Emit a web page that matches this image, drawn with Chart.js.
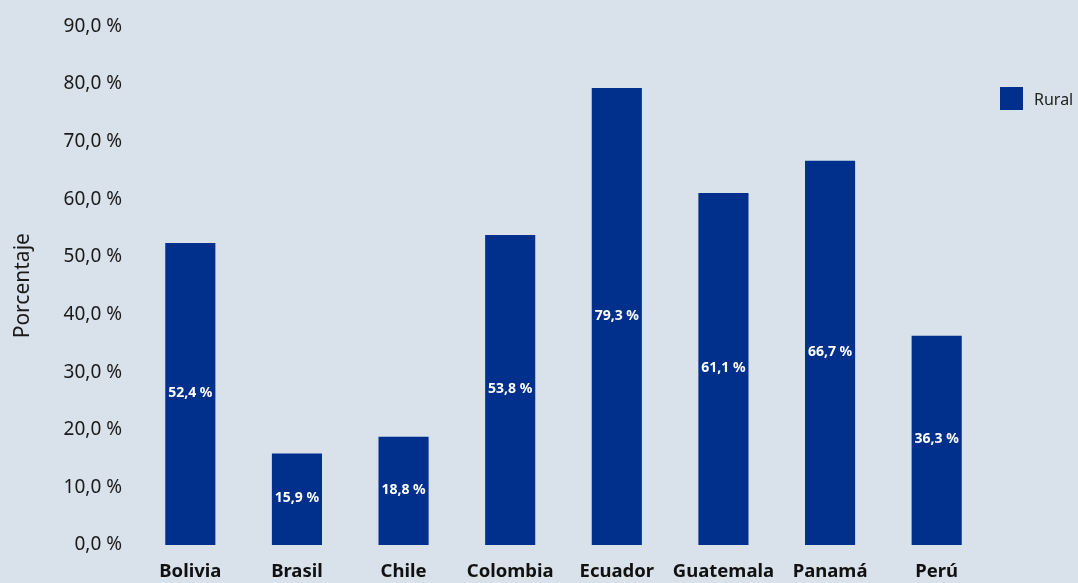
<!DOCTYPE html>
<html lang="es">
<head>
<meta charset="utf-8">
<title>Rural</title>
<script src="https://cdn.jsdelivr.net/npm/chart.js@4"></script>
<style>
  html, body { margin: 0; padding: 0; background: #d9e1ea; }
  #wrap { position: relative; width: 1078px; height: 583px; }
  #legend { position: absolute; left: 1000px; top: 87px; display: flex; align-items: center;
            font-family: "Noto Sans", sans-serif; font-size: 16px; color: #222; }
  #legend .sw { width: 23px; height: 23px; background: #00308c; margin-right: 11px; }
</style>
</head>
<body>
<div id="wrap">
  <canvas id="chart" width="1078" height="583"></canvas>
  <div id="legend"><div class="sw"></div><span>Rural</span></div>
</div>
<script>
// ---- data ----
const paises = ['Bolivia', 'Brasil', 'Chile', 'Colombia', 'Ecuador', 'Guatemala', 'Panamá', 'Perú'];
const rural  = [52.4, 15.9, 18.8, 53.8, 79.3, 61.1, 66.7, 36.3];
const serie  = 'Rural';

const AZUL = '#00308c';
const fmt = v => v.toFixed(1).replace('.', ',') + ' %';

// value labels in the middle of each bar
const barLabels = {
  id: 'barLabels',
  afterDatasetsDraw(chart) {
    const ctx = chart.ctx;
    const meta = chart.getDatasetMeta(0);
    ctx.save();
    ctx.font = 'bold 14px "Noto Sans"';
    ctx.fillStyle = '#ffffff';
    ctx.textAlign = 'center';
    ctx.textBaseline = 'middle';
    meta.data.forEach((bar, i) => {
      ctx.fillText(fmt(rural[i]), bar.x, (bar.y + bar.base) / 2 - 1);
    });
    ctx.restore();
  }
};

Chart.defaults.font.family = '"Noto Sans", sans-serif';
Chart.defaults.color = '#1a1a1a';

new Chart(document.getElementById('chart'), {
  type: 'bar',
  data: {
    labels: paises,
    datasets: [{ label: serie, data: rural, backgroundColor: AZUL,
      barPercentage: 0.47, categoryPercentage: 1 }]
  },
  options: {
    responsive: false,
    animation: false,
    layout: { padding: { top: 24, right: 88, left: 0, bottom: 0 } },
    plugins: { legend: { display: false }, tooltip: { enabled: false } },
    scales: {
      x: {
        grid: { display: false, drawTicks: false },
        border: { display: false },
        ticks: { font: { size: 18.5, weight: 'bold' }, color: '#111', padding: 16, maxRotation: 0 },
        afterFit: s => { s.height = 38; }
      },
      y: {
        min: 0, max: 90,
        grid: { display: false, drawTicks: false },
        border: { display: false },
        ticks: { stepSize: 10, font: { size: 19 }, color: '#1a1a1a', padding: 15, callback: v => fmt(v) },
        title: { display: true, text: 'Porcentaje', font: { size: 21 }, color: '#1a1a1a', padding: { top: 10, bottom: 0 } },
        afterFit: s => { s.width = 137; }
      }
    }
  },
  plugins: [barLabels]
});
</script>
</body>
</html>
